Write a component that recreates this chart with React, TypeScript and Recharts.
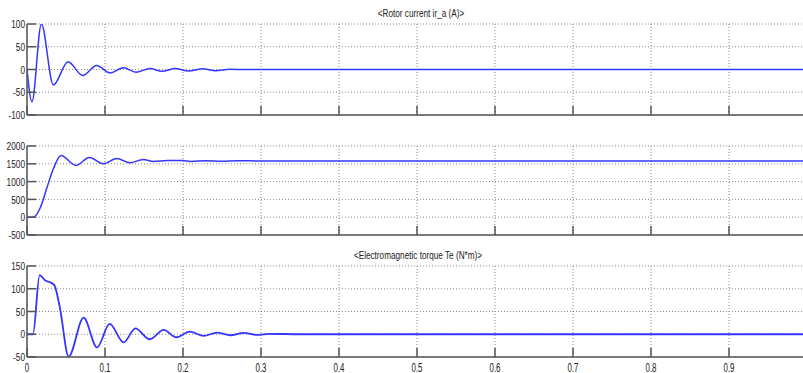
import React from 'react';
import { LineChart, Line, XAxis, YAxis, CartesianGrid } from 'recharts';

// ---- data ----
const currentTime = [0, 0.0064, 0.0184, 0.0338, 0.0526, 0.0714, 0.0893, 0.1064, 0.1235, 0.1397, 0.1577, 0.173, 0.19, 0.207, 0.225, 0.242, 0.26, 0.28, 1.0];
const currentValue = [0, -71, 100, -34, 17, -13, 9, -7.5, 4, -6, 2, -4, 2, -3.5, 1.5, -2.5, 0.5, 0, 0];

const speedTime = [0, 0.0081, 0.0167, 0.0252, 0.0338, 0.0436, 0.0628, 0.0799, 0.0979, 0.115, 0.132, 0.149, 0.162, 0.18, 0.2, 0.21, 0.23, 0.25, 0.27, 0.3, 1.0];
const speedValue = [0, 0, 250, 805, 1360, 1730, 1453, 1676, 1500, 1648, 1528, 1620, 1565, 1590, 1592, 1565, 1588, 1570, 1585, 1580, 1580];

const torqueTime = [0, 0.0077, 0.0162, 0.0235, 0.03, 0.035, 0.0419, 0.0534, 0.0726, 0.0897, 0.106, 0.1239, 0.1389, 0.1573, 0.1752, 0.1915, 0.2085, 0.2265, 0.2436, 0.2607, 0.2778, 0.295, 0.31, 0.35, 1.0];
const torqueValue = [0, 0, 130, 118, 114, 108, 61, -49, 36.6, -29, 22.7, -18, 13, -11, 9.5, -6.6, 5.8, -3.7, 3.7, -2.2, 3, -1.5, 1, 0, 0];

const xTicks = [0, 0.1, 0.2, 0.3, 0.4, 0.5, 0.6, 0.7, 0.8, 0.9];
const currentTicks = [-100, -50, 0, 50, 100];
const speedTicks = [-500, 0, 500, 1000, 1500, 2000];
const torqueTicks = [-50, 0, 50, 100, 150];

const titles = ['<Rotor current ir_a (A)>', '', '<Electromagnetic torque Te (N*m)>'];

const toRows = (t: number[], v: number[]) => t.map((x, i) => ({ t: x, v: v[i] }));

const FONT = "'Liberation Sans', Arial, sans-serif";
const FRAME = '#555555';
const LINE = '#3535ff';
const CHART_W = 810;

function YTick(props: any) {
  const { x, y, payload } = props;
  return (
    <text
      x={0}
      y={0}
      transform={`translate(${x},${y}) scale(0.72,1)`}
      textAnchor="end"
      dy="0.36em"
      fill="#222"
      fontSize={11.5}
      fontFamily={FONT}
    >
      {String(payload.value)}
    </text>
  );
}

function XTick(props: any) {
  const { x, y, payload } = props;
  return (
    <text
      x={0}
      y={0}
      transform={`translate(${x},${y}) scale(0.66,1)`}
      textAnchor="middle"
      dy="0.71em"
      fill="#222"
      fontSize={12}
      fontFamily={FONT}
    >
      {String(payload.value)}
    </text>
  );
}

const NoLabel = () => <g />;

type PanelProps = {
  rows: { t: number; v: number }[];
  yTicks: number[];
  top: number;
  marginTop: number;
  plotH: number;
  showX: boolean;
  strokeW: number;
};

function Panel({ rows, yTicks, top, marginTop, plotH, showX, strokeW }: PanelProps) {
  const xh = showX ? 16 : 3;
  const mb = showX ? 0 : 6;
  const height = marginTop + plotH + xh + mb;
  const yDomain: [number, number] = [yTicks[0], yTicks[yTicks.length - 1]];
  const axisStroke = { stroke: FRAME, strokeWidth: 1.5 };
  const tickStroke = { stroke: FRAME, strokeWidth: 1.5 };
  return (
    <div style={{ position: 'absolute', left: 0, top }}>
      <LineChart width={CHART_W} height={height} data={rows} margin={{ top: marginTop, right: 3, bottom: mb, left: 0 }}>
        <CartesianGrid stroke="#8a8a8a" strokeDasharray="1 2" strokeWidth={1} />
        <XAxis
          xAxisId={0}
          dataKey="t"
          type="number"
          domain={[0, 1]}
          ticks={xTicks}
          height={xh}
          tickSize={-9}
          tickMargin={15}
          axisLine={axisStroke}
          tickLine={tickStroke}
          tick={showX ? (p: any) => <XTick {...p} /> : NoLabel}
          interval={0}
          allowDataOverflow
        />
        <XAxis
          xAxisId="top"
          orientation="top"
          dataKey="t"
          type="number"
          domain={[0, 1]}
          ticks={xTicks}
          height={0}
          tickSize={-9}
          axisLine={axisStroke}
          tickLine={tickStroke}
          tick={NoLabel}
          interval={0}
          allowDataOverflow
        />
        <YAxis
          yAxisId={0}
          type="number"
          domain={yDomain}
          ticks={yTicks}
          width={27}
          tickSize={-9}
          tickMargin={11}
          axisLine={axisStroke}
          tickLine={tickStroke}
          tick={(p: any) => <YTick {...p} />}
          interval={0}
          allowDataOverflow
        />
        <YAxis
          yAxisId="right"
          orientation="right"
          type="number"
          domain={yDomain}
          ticks={yTicks}
          width={0}
          tickSize={-9}
          axisLine={axisStroke}
          tickLine={tickStroke}
          tick={NoLabel}
          interval={0}
          allowDataOverflow
        />
        <Line
          xAxisId={0}
          yAxisId={0}
          type="monotone"
          dataKey="v"
          stroke={LINE}
          strokeWidth={strokeW}
          dot={false}
          isAnimationActive={false}
        />
      </LineChart>
    </div>
  );
}

function Title({ text, y, cx }: { text: string; y: number; cx: number }) {
  return (
    <div
      style={{
        position: 'absolute',
        left: cx - 150,
        width: 300,
        top: y - 7,
        height: 14,
        lineHeight: '14px',
        textAlign: 'center',
        fontFamily: FONT,
        fontSize: 10.5,
        color: '#222',
        transform: 'scaleX(0.78)',
      }}
    >
      {text}
    </div>
  );
}

export default function App() {
  return (
    <div
      style={{
        position: 'fixed',
        left: 0,
        top: 0,
        width: 803,
        height: 373,
        overflow: 'hidden',
        background: '#ffffff',
      }}
    >
      <Panel rows={toRows(currentTime, currentValue)} yTicks={currentTicks} top={0} marginTop={24} plotH={91} showX={false} strokeW={1.5} />
      <Panel rows={toRows(speedTime, speedValue)} yTicks={speedTicks} top={120} marginTop={26} plotH={89} showX={false} strokeW={1.5} />
      <Panel rows={toRows(torqueTime, torqueValue)} yTicks={torqueTicks} top={240} marginTop={26} plotH={91} showX={true} strokeW={1.8} />
      <Title text={titles[0]} y={13} cx={421} />
      <Title text={titles[2]} y={255} cx={418} />
    </div>
  );
}
